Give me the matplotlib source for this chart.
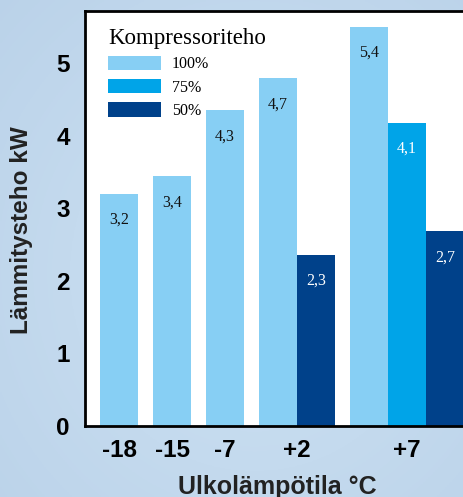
import numpy as np
import matplotlib
matplotlib.use("Agg")
import matplotlib.pyplot as plt
from matplotlib.patches import Patch

# ---- data (bar heights as drawn in the picture; labels as printed) ----
categories = ["-18", "-15", "-7", "+2", "+7"]
series_names = ["100%", "75%", "50%"]
values_100 = [3.2, 3.44, 4.35, 4.79, 5.5]
values_75 = [np.nan, np.nan, np.nan, np.nan, 4.18]
values_50 = [np.nan, np.nan, np.nan, 2.36, 2.68]
value_labels_100 = ["3,2", "3,4", "4,3", "4,7", "5,4"]
value_labels_75 = ["", "", "", "", "4,1"]
value_labels_50 = ["", "", "", "2,3", "2,7"]
yticks = [0, 1, 2, 3, 4, 5]
legend_title = "Kompressoriteho"
xlabel = "Ulkolämpötila °C"
ylabel = "Lämmitysteho kW"

colors = ["#87cff4", "#00a4e8", "#00418a"]
text_colors = ["#111111", "white", "white"]

W, H = 463, 497
fig = plt.figure(figsize=(W / 100, H / 100), dpi=100)

# background gradient
bg = fig.add_axes([0, 0, 1, 1], zorder=-10)
yy, xx = np.mgrid[0:1:200j, 0:1:200j]
d = np.sqrt((xx - 0.55) ** 2 + (yy - 0.45) ** 2)
c_in = np.array([206, 226, 243]) / 255
c_out = np.array([186, 210, 233]) / 255
t = np.clip(d / 0.8, 0, 1)[..., None]
img = c_in * (1 - t) + c_out * t
bg.imshow(img, aspect="auto", extent=[0, 1, 0, 1], origin="lower")
bg.axis("off")

left = 85 / W
bottom = (H - 426) / H
height = (426 - 11) / H
ax = fig.add_axes([left, bottom, 1 - left, height])
ax.set_facecolor("white")

series = [values_100, values_75, values_50]
labels = [value_labels_100, value_labels_75, value_labels_50]

bar_w = 1.0
gap = 0.395
x = gap
group_centers = []
bars_x = [[], [], []]
for gi in range(len(categories)):
    centers = []
    for si in range(len(series)):
        v = series[si][gi]
        if not np.isnan(v):
            cx = x + bar_w / 2
            bars_x[si].append((cx, v, labels[si][gi]))
            centers.append(cx)
            x += bar_w
    group_centers.append(np.mean(centers))
    x += gap

for si in range(len(series)):
    xs = [b[0] for b in bars_x[si]]
    vs = [b[1] for b in bars_x[si]]
    ax.bar(xs, vs, width=bar_w, color=colors[si], zorder=1)
    for cx, v, lab in bars_x[si]:
        ax.text(cx, v - 0.36, lab, ha="center", va="center",
                fontsize=11.5, family="Liberation Serif", color=text_colors[si])

ax.set_xlim(0, (W - 85) / 38)
ax.set_ylim(0, 415 / 72.6)
ax.set_yticks(yticks)
ax.set_yticklabels([str(v) for v in yticks])
ax.set_xticks(group_centers)
ax.set_xticklabels(categories)
ax.tick_params(length=0, labelsize=17.5, colors="black")
ax.tick_params(axis="y", pad=11)
ax.tick_params(axis="x", pad=9.5)
for lab in ax.get_xticklabels() + ax.get_yticklabels():
    lab.set_fontweight("bold")
    lab.set_family("Liberation Sans")

for s in ["left", "top", "bottom"]:
    ax.spines[s].set_linewidth(2)
    ax.spines[s].set_color("black")
ax.spines["right"].set_visible(False)

ax.set_xlabel(xlabel, fontsize=18, fontweight="bold", family="Liberation Sans", color="#222222")
ax.xaxis.set_label_coords(0.51, -0.118)
ax.xaxis.label.set_va("top")
ax.set_ylabel(ylabel, fontsize=17.5, fontweight="bold", family="Liberation Sans", color="#222222")
ax.yaxis.set_label_coords(-0.1376, 0.472)

handles = [Patch(facecolor=c, edgecolor="none") for c in colors]
leg = ax.legend(handles, series_names, title=legend_title, loc="upper left",
                bbox_to_anchor=(23 / 378, 1 - 17 / 415), frameon=False,
                prop={"family": "Liberation Serif", "size": 11.5},
                title_fontproperties={"family": "Liberation Serif", "size": 16.5},
                handlelength=3.3, handleheight=1.0, handletextpad=0.68,
                labelspacing=0.42, alignment="left", borderpad=0, borderaxespad=0)

fig.savefig("out.png", dpi=100)
